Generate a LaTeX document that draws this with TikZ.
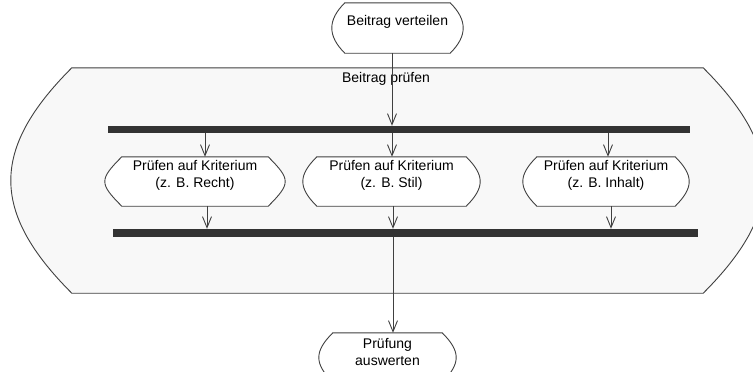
\documentclass[tikz,border=0pt]{standalone}
\usepackage{fontspec}
\setmainfont{Liberation Sans}
\usetikzlibrary{positioning,calc,arrows.meta}
\definecolor{mygray}{RGB}{64,64,64}
\definecolor{mybar}{RGB}{51,51,51}
\definecolor{mypale}{RGB}{248,248,248}
\pgfdeclarelayer{background}
\pgfsetlayers{background,main}
% outline of an activity state: flat top and bottom, bulged ends
\newcommand\actoutline[3][white]{%
	\draw[draw=mygray,line width=0.9pt,fill=#1]
	([xshift=#3 pt]#2.north west) -- ([xshift=-#3 pt]#2.north east)
	.. controls +({4*#3/3},{4*#3/3}) and +({4*#3/3},{-4*#3/3}) .. ([xshift=-#3 pt]#2.south east)
	-- ([xshift=#3 pt]#2.south west)
	.. controls +({-4*#3/3},{-4*#3/3}) and +({-4*#3/3},{4*#3/3}) .. ([xshift=#3 pt]#2.north west)
	-- cycle;}

\begin{document}
\begin{tikzpicture}[x=1pt,y=-1pt,
	font=\fontsize{14}{16.5}\selectfont,
	>={Straight Barb[length=11pt,width=9pt]},
	actstate/.style={
		inner sep=0pt,
		align=center,
		text height=30pt,
		text depth=19pt},
	forkbar/.style={fill=mybar,inner sep=0pt,minimum height=7pt},
	flow/.style={->,draw=mygray,line width=0.9pt},
	]
	\useasboundingbox (0,0) rectangle (753,372);
	\node[inner sep=0pt,minimum width=753pt,minimum height=225pt] (pruefen) at (387.5,180.5) {};
	\node[anchor=base] (pruefenlbl) at (386,82) {Beitrag prüfen};
	\node[actstate,minimum width=131pt,text height=22pt,text depth=28pt] (verteilen) at (397.5,28) {Beitrag verteilen};
	
	\node[forkbar,minimum width=582pt] (fork) at (399,129.5) {};
	\node[actstate,minimum width=180pt] (recht) at (195,181.5) {Prüfen auf Kriterium\\(z. B. Recht)};
	\node[actstate,minimum width=177pt] (stil) at (391.5,181.5) {Prüfen auf Kriterium\\(z. B. Stil)};
	\node[actstate,minimum width=166pt] (inhalt) at (606,181.5) {Prüfen auf Kriterium\\(z. B. Inhalt)};
	\node[forkbar,minimum width=585pt,minimum height=8pt] (join) at (405.5,233) {};
	
	\node[actstate,minimum width=137pt,text height=32pt,text depth=17pt] (auswerten) at (387.5,357.5) {Prüfung\\auswerten};
	
	\draw[flow] ([xshift=-5.5pt]verteilen.south) -- ([xshift=-5.5pt]verteilen.south |- fork.north);
	\foreach \n/\ta/\tb in {recht/10/12,stil/0.5/1.5,inhalt/2/5}{
		\draw[flow] ([xshift=\ta pt]\n.north |- fork.south) -- ([xshift=\ta pt]\n.north);
		\draw[flow] ([xshift=\tb pt]\n.south) -- ([xshift=\tb pt]\n.south |- join.north);
	}
	\draw[flow] ([xshift=5.5pt]auswerten.north |- join.south) -- ([xshift=5.5pt]auswerten.north);
	
	\begin{pgfonlayer}{background}
		\begin{scope}
			\clip (0,0) rectangle (753,372);
			\actoutline[mypale]{pruefen}{61}
			\foreach \n/\bl in {verteilen/13,recht/17,stil/14,inhalt/14,auswerten/14}{
				\actoutline{\n}{\bl}
			}
		\end{scope}
	\end{pgfonlayer}
\end{tikzpicture}
\end{document}
